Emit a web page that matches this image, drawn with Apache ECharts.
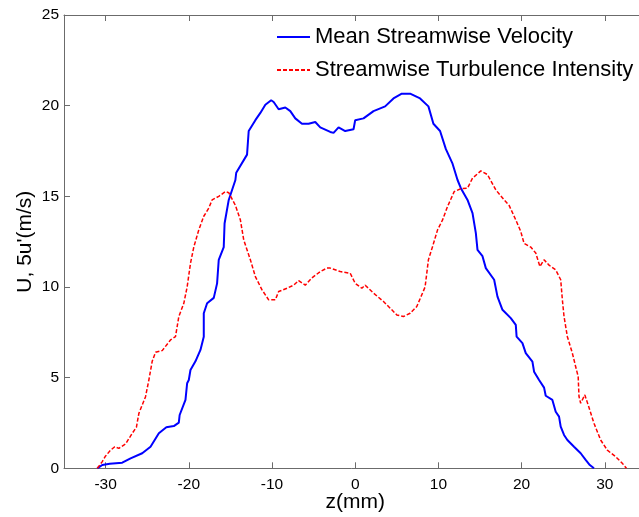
<!DOCTYPE html>
<html>
<head>
<meta charset="utf-8">
<script src="https://cdn.jsdelivr.net/npm/echarts@6/dist/echarts.min.js"></script>
<style>
html,body{margin:0;padding:0;background:#fff;}
#chart{width:639px;height:517px;}
</style>
</head>
<body>
<div id="chart"></div>
<script>
// Mean Streamwise Velocity: z (mm) and U (m/s)
var velZ = [-31.0,-30.4,-29.5,-28.0,-27.0,-25.6,-24.6,-23.6,-22.7,-21.8,-21.2,-21.1,-20.4,-20.2,-20.0,-19.8,-19.2,-18.6,-18.2,-18.2,-17.8,-17.0,-16.6,-16.4,-15.8,-15.7,-15.2,-14.4,-14.3,-13.0,-12.8,-12.0,-11.4,-10.8,-10.1,-9.8,-9.2,-8.4,-7.8,-7.2,-6.4,-5.6,-4.8,-4.2,-3.0,-2.6,-2.0,-1.2,-0.2,0.0,1.0,2.2,3.6,4.6,5.6,6.6,7.8,8.8,9.4,10.2,10.9,11.7,12.3,12.7,13.5,14.1,14.5,14.7,15.3,15.7,16.7,17.1,17.7,18.7,19.3,19.4,20.1,20.5,21.3,21.5,22.1,22.7,22.9,23.7,24.1,24.5,24.7,25.1,25.5,26.3,27.1,27.7,28.2,28.7];
var velU = [0,0.18,0.25,0.31,0.55,0.83,1.19,1.93,2.26,2.33,2.52,2.94,3.77,4.69,4.87,5.42,5.9,6.53,7.26,8.55,9.1,9.4,10.2,11.5,12.2,13.5,14.8,15.9,16.3,17.3,18.6,19.2,19.6,20.05,20.3,20.2,19.8,19.9,19.7,19.3,19.0,19.0,19.1,18.8,18.55,18.5,18.8,18.6,18.7,19.2,19.3,19.7,19.96,20.4,20.66,20.66,20.4,19.96,19.0,18.6,17.6,16.8,15.9,15.45,14.8,14.07,12.97,12.05,11.7,11.04,10.4,9.47,8.74,8.28,7.91,7.26,6.9,6.35,5.88,5.33,4.87,4.45,4.0,3.77,3.12,2.85,2.3,1.84,1.56,1.19,0.83,0.46,0.18,0];

// Streamwise Turbulence Intensity: z (mm) and 5u' (m/s)
var turbZ = [-31.0,-30.4,-30.0,-29.4,-28.9,-28.4,-27.6,-26.8,-26.3,-26.0,-25.2,-24.8,-24.4,-24.0,-23.2,-22.2,-21.6,-21.2,-20.6,-20.2,-19.8,-19.4,-18.8,-18.2,-17.6,-17.2,-16.4,-15.6,-15.2,-14.4,-13.8,-13.4,-12.6,-12.0,-11.2,-10.4,-9.6,-9.2,-8.2,-7.4,-6.8,-6.0,-5.2,-4.2,-3.4,-3.0,-1.8,-0.6,0.0,0.8,1.2,2.2,3.4,4.4,5.0,5.8,6.6,7.4,8.4,8.8,9.3,9.9,10.5,11.1,11.9,12.7,13.5,14.1,15.1,15.9,16.9,17.9,18.5,19.3,19.9,20.3,21.1,21.7,22.2,22.7,23.3,24.1,24.7,24.9,25.1,25.5,26.1,26.5,26.8,26.9,27.1,27.6,28.1,28.7,29.5,30.3,31.3,32.1,32.6];
var turbU = [0,0.37,0.68,1.0,1.19,1.1,1.34,1.93,2.26,3.03,3.95,4.87,5.9,6.4,6.49,7.08,7.26,8.37,9.1,10.0,11.3,12.2,13.15,13.9,14.35,14.8,15.0,15.26,15.2,14.5,13.7,12.6,11.5,10.57,9.84,9.29,9.29,9.75,9.93,10.1,10.35,10.1,10.5,10.85,11.04,11.04,10.85,10.76,10.2,9.93,10.1,9.66,9.2,8.74,8.46,8.37,8.55,8.92,10.0,11.5,12.23,13.15,13.7,14.44,15.26,15.42,15.45,16.0,16.4,16.2,15.36,14.8,14.5,13.7,13.06,12.4,12.2,11.87,11.13,11.5,11.2,10.94,10.4,9.29,8.37,7.26,6.35,5.6,5.06,3.95,3.59,4.05,3.35,2.48,1.56,1.0,0.64,0.28,0];

var seriesNames = ['Mean Streamwise Velocity', 'Streamwise Turbulence Intensity'];
var xTitle = 'z(mm)';
var yTitle = "U, 5u'(m/s)";

function pairs(a, b) { return a.map(function (v, i) { return [v, b[i]]; }); }

var axisColor = '#6b6b6b';
var font = 'Liberation Sans, Arial, sans-serif';

var chart = echarts.init(document.getElementById('chart'), null, {renderer: 'canvas'});
var xCommon = {
  type: 'value', min: -35, max: 35, splitNumber: 7,
  axisLine: {show: true, onZero: false, lineStyle: {color: axisColor, width: 1}},
  axisTick: {show: true, inside: true, length: 6, lineStyle: {color: axisColor}},
  splitLine: {show: false}
};
chart.setOption({
  animation: false,
  backgroundColor: '#ffffff',
  grid: {left: 64, top: 15, width: 582.4, height: 453.3, containLabel: false, outerBoundsMode: 'none'},
  legend: {
    show: true,
    orient: 'vertical', left: 271, top: 21,
    itemWidth: 33, itemHeight: 20, itemGap: 11,
    itemStyle: {opacity: 0},
    textStyle: {fontFamily: font, fontSize: 22, color: '#000'},
    data: seriesNames
  },
  xAxis: [
    Object.assign({}, xCommon, {
      position: 'bottom',
      name: xTitle, nameLocation: 'middle', nameGap: 23, nameMoveOverlap: false,
      nameTextStyle: {fontFamily: font, fontSize: 21, color: '#000'},
      axisLabel: {show: true, margin: 8, fontFamily: font, fontSize: 15.5, color: '#000', showMinLabel: false, showMaxLabel: false}
    }),
    Object.assign({}, xCommon, {
      position: 'top',
      axisLabel: {show: false}
    })
  ],
  yAxis: {
    type: 'value', min: 0, max: 25, interval: 5,
    name: yTitle, nameLocation: 'middle', nameGap: 28, nameRotate: 90, nameMoveOverlap: false,
    nameTextStyle: {fontFamily: font, fontSize: 21, color: '#000'},
    axisLine: {show: true, onZero: false, lineStyle: {color: axisColor, width: 1}},
    axisTick: {show: true, inside: true, length: 6, lineStyle: {color: axisColor}},
    axisLabel: {margin: 5, fontFamily: font, fontSize: 15.5, color: '#000'},
    splitLine: {show: false}
  },
  series: [
    {
      name: seriesNames[0], type: 'line', xAxisIndex: 0,
      data: pairs(velZ, velU), showSymbol: false, symbol: 'none',
      lineStyle: {color: '#0000ff', width: 2},
      itemStyle: {color: '#0000ff'}
    },
    {
      name: seriesNames[1], type: 'line', xAxisIndex: 0,
      data: pairs(turbZ, turbU), showSymbol: false, symbol: 'none',
      lineStyle: {color: '#ff0000', width: 1.5, type: [4, 2]},
      itemStyle: {color: '#ff0000'}
    }
  ]
});
</script>
</body>
</html>
